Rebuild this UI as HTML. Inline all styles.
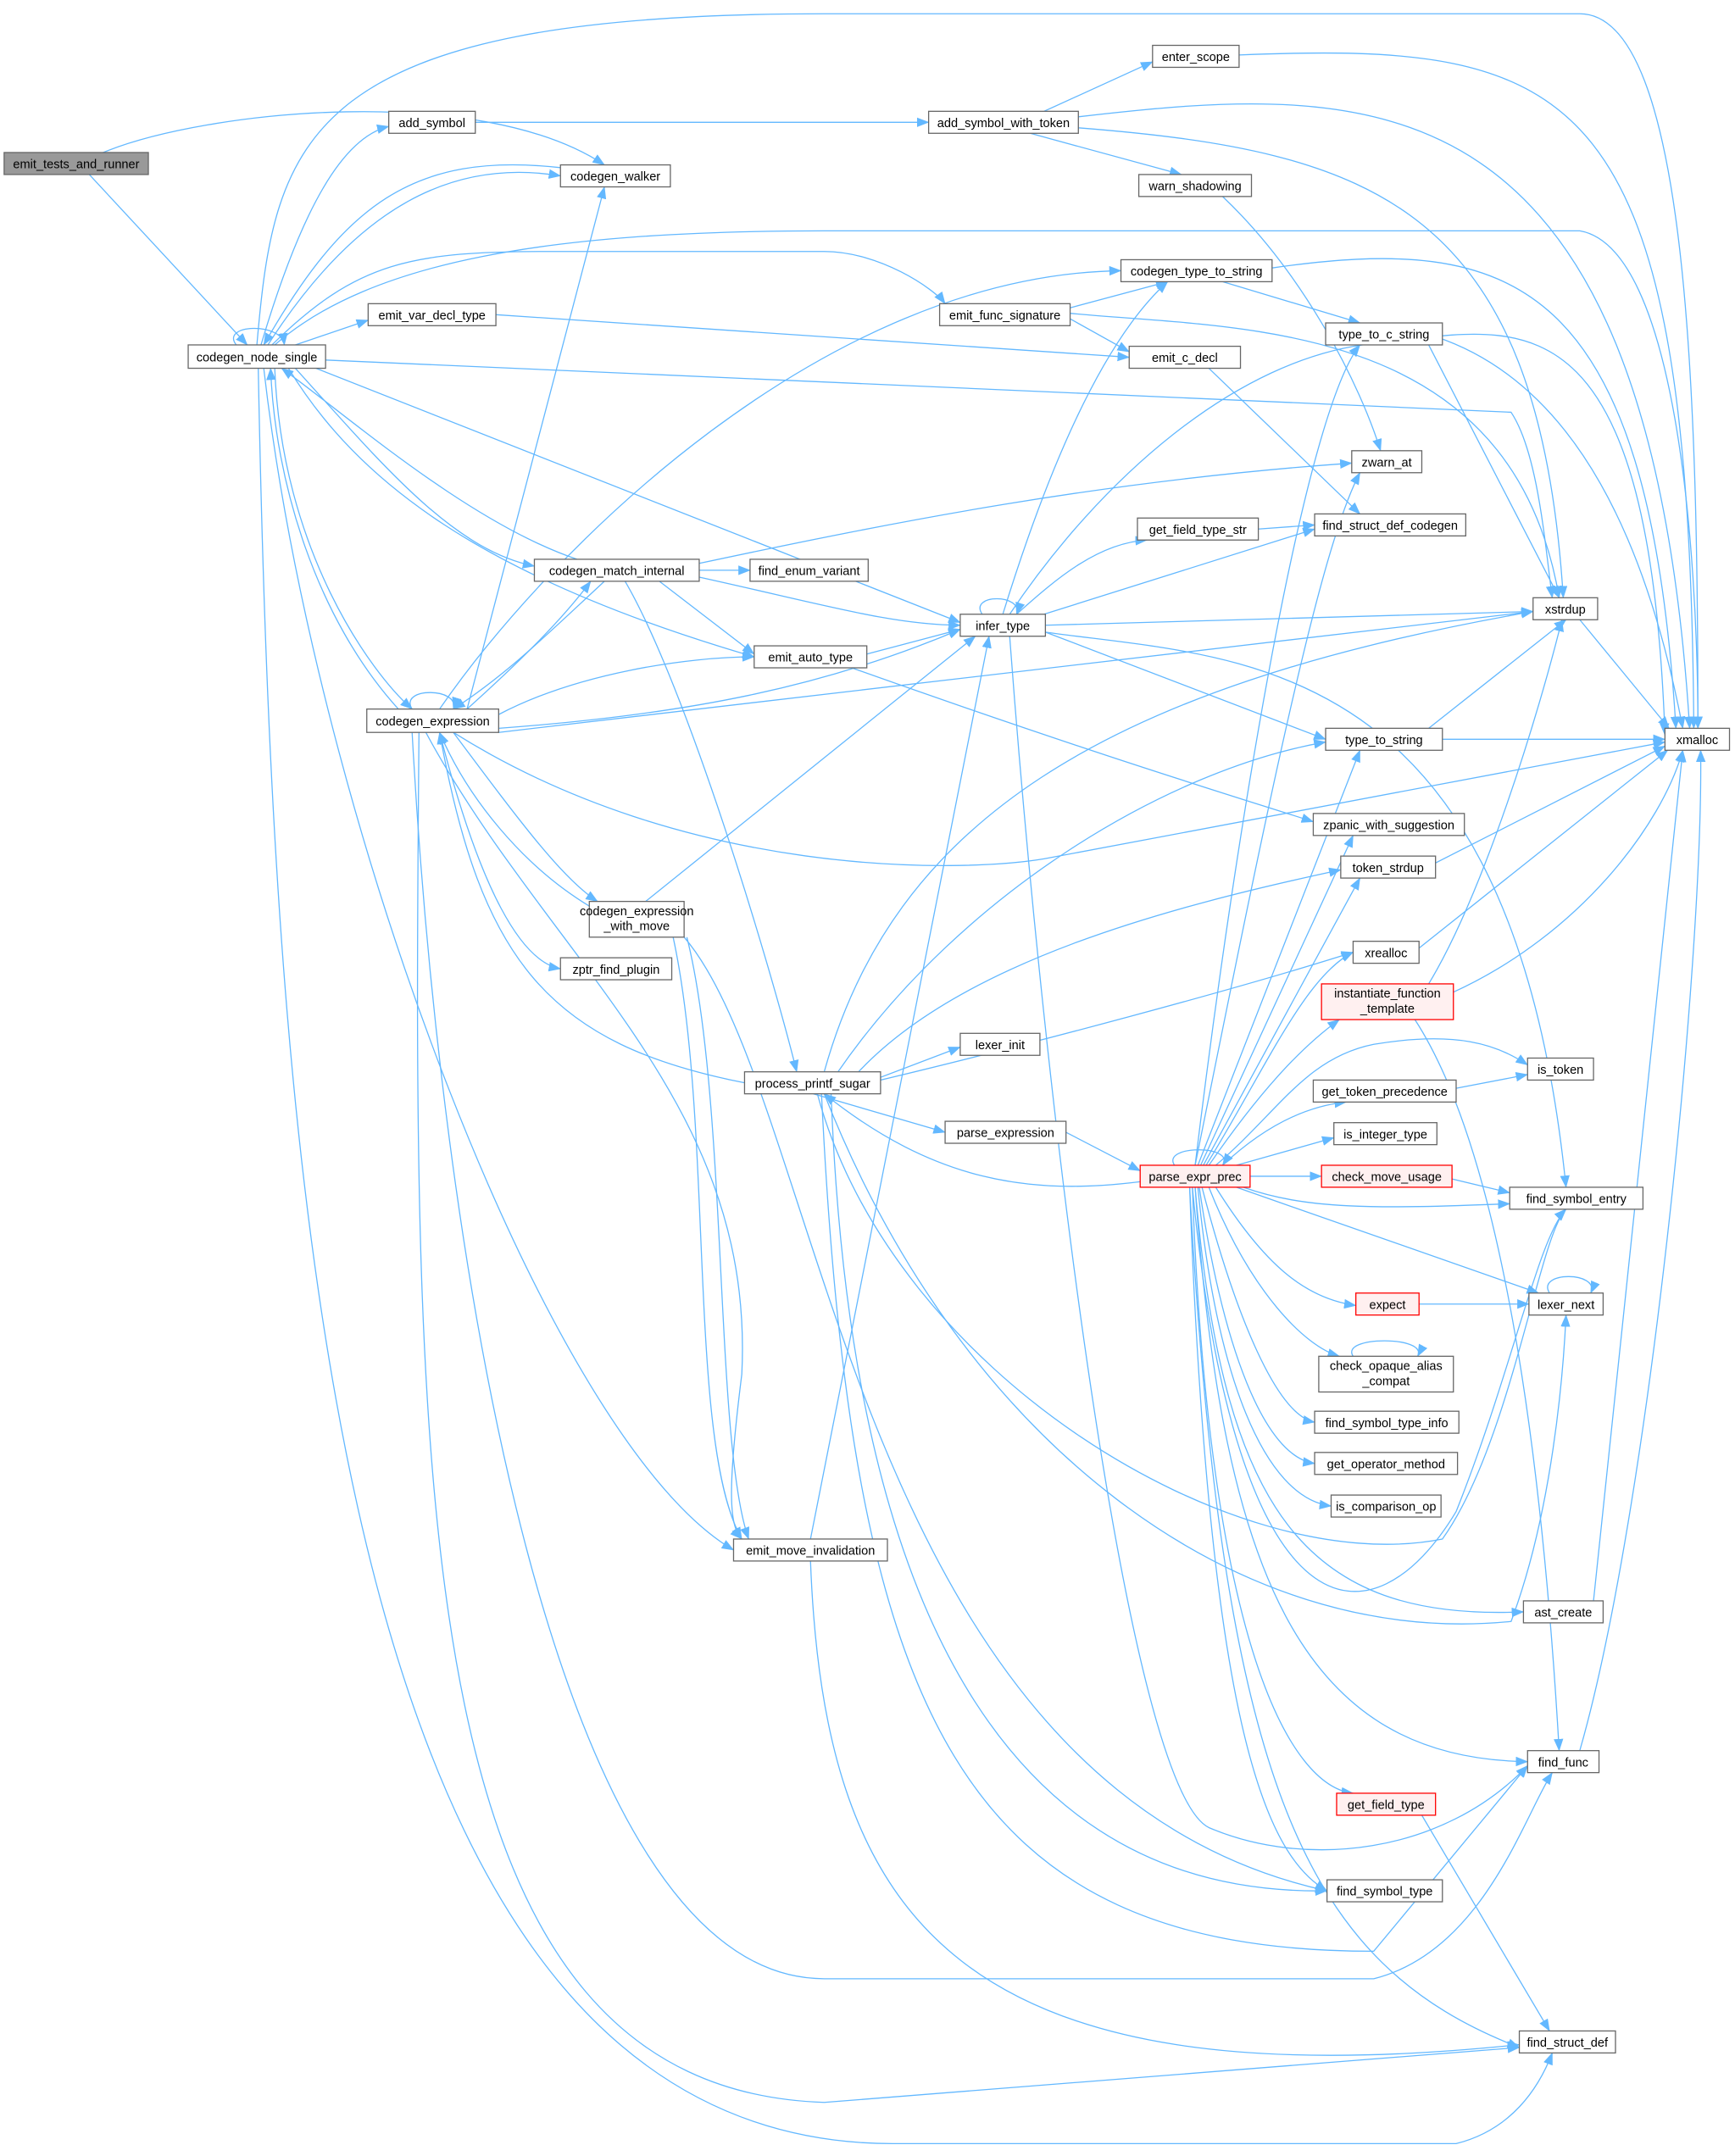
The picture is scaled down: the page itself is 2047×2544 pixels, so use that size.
<!DOCTYPE html>
<html><head><meta charset="utf-8"><style>
html,body{margin:0;padding:0;background:#fff;}
svg{display:block;}
text{font-family:"Liberation Sans","DejaVu Sans",sans-serif;font-size:9px;fill:#000;text-anchor:middle;}
.e{fill:none;stroke:#63b8ff;stroke-width:0.8;marker-end:url(#a);}
.n{fill:#fff;stroke:#666;stroke-width:0.8;}
.r{fill:#fff0f0;stroke:#ff0000;stroke-width:0.8;}
.g{fill:#999;stroke:#666;stroke-width:0.8;}
</style></head><body>
<svg width="2047" height="2544" viewBox="0 0 1263 1569" preserveAspectRatio="none" xmlns="http://www.w3.org/2000/svg">
<defs><marker id="a" markerUnits="userSpaceOnUse" markerWidth="9" markerHeight="7" refX="8.5" refY="3.5" orient="auto"><path d="M0,0 L9,3.5 L0,7 z" fill="#63b8ff"/></marker></defs>
<g>
<!-- emit_tests -->
<path class="e" d="M75,111 C150,80 350,60 440,120"/>
<path class="e" d="M65,127 L180,251"/>
<!-- codegen_node_single -->
<path class="e" d="M172,251 C160,236 205,234 207,251"/>
<path class="e" d="M190,251 C220,150 250,100 283,92"/>
<path class="e" d="M187,251 C200,100 220,10 600,10 L1150,10 C1230,10 1236,300 1236,530"/>
<path class="e" d="M195,251 C260,150 330,115 408,128"/>
<path class="e" d="M408,122 C300,110 250,150 192,251"/>
<path class="e" d="M198,251 C260,190 300,183 400,183 L600,183 C640,183 680,210 688,221"/>
<path class="e" d="M200,251 C270,190 400,168 600,168 L1150,168 C1220,180 1236,400 1236,530"/>
<path class="e" d="M215,251 L268,233"/>
<path class="e" d="M237,262 L1100,300 C1120,330 1125,400 1130,435"/>
<path class="e" d="M230,268 L699,453"/>
<path class="e" d="M215,268 C280,340 330,400 389,412"/>
<path class="e" d="M420,407 C340,380 250,300 205,268"/>
<path class="e" d="M210,268 C260,350 350,420 549,478"/>
<path class="e" d="M200,268 C205,400 270,490 300,516"/>
<path class="e" d="M290,516 C230,450 200,350 197,268"/>
<path class="e" d="M192,268 C230,600 400,1050 534,1128"/>
<path class="e" d="M188,268 C200,900 250,1560 650,1560 L1060,1560 C1100,1550 1120,1520 1130,1494"/>
<!-- codegen_expression -->
<path class="e" d="M300,516 C290,500 335,500 330,516"/>
<path class="e" d="M340,516 L440,136"/>
<path class="e" d="M320,516 C400,400 600,200 816,197"/>
<path class="e" d="M340,516 C380,480 410,450 430,423"/>
<path class="e" d="M440,423 C400,460 370,490 330,516"/>
<path class="e" d="M363,520 C420,490 500,478 549,478"/>
<path class="e" d="M363,530 C500,520 600,500 699,458"/>
<path class="e" d="M363,533 L1116,445"/>
<path class="e" d="M330,533 C500,640 700,635 760,625 L1212,540"/>
<path class="e" d="M330,533 C380,600 410,640 435,656"/>
<path class="e" d="M430,660 C380,630 340,580 320,533"/>
<path class="e" d="M320,533 C350,650 380,700 408,705"/>
<path class="e" d="M310,533 C400,700 550,800 540,1000 C530,1080 530,1110 540,1120"/>
<path class="e" d="M300,533 C320,900 400,1440 600,1440 L1000,1440 C1080,1420 1110,1320 1130,1290"/>
<path class="e" d="M305,533 C300,1100 300,1520 600,1530 L1106,1490"/>
<path class="e" d="M542,788 C400,760 350,700 320,533"/>
<!-- codegen_match_internal -->
<path class="e" d="M509,410 C650,380 800,350 984,337"/>
<path class="e" d="M509,415 L546,415"/>
<path class="e" d="M509,420 C600,440 650,455 699,455"/>
<path class="e" d="M480,423 L549,476"/>
<path class="e" d="M455,423 C500,500 560,700 580,780"/>
<!-- emit_auto_type -->
<path class="e" d="M631,476 L699,458"/>
<path class="e" d="M620,486 C800,550 900,580 956,598"/>
<!-- cewm -->
<path class="e" d="M470,656 L710,463"/>
<path class="e" d="M500,682 C530,800 520,1050 545,1120"/>
<path class="e" d="M490,682 C520,820 500,1050 540,1120"/>
<path class="e" d="M498,682 C600,800 620,1300 966,1376"/>
<!-- emit_move_invalidation -->
<path class="e" d="M590,1120 L720,463"/>
<path class="e" d="M590,1136 C600,1400 700,1530 1106,1488"/>
<!-- process_printf_sugar -->
<path class="e" d="M641,784 L699,762"/>
<path class="e" d="M592,796 L688,824"/>
<path class="e" d="M830,860 C750,870 680,860 600,796"/>
<path class="e" d="M600,780 C650,600 800,500 1116,445"/>
<path class="e" d="M610,780 C700,650 850,560 965,540"/>
<path class="e" d="M625,780 C700,700 850,660 976,633"/>
<path class="e" d="M641,786 C750,760 900,720 985,693"/>
<path class="e" d="M600,796 C700,1050 900,1200 1100,1180 C1130,1100 1138,1000 1140,957"/>
<path class="e" d="M595,796 C650,1000 900,1150 1050,1120 C1100,1050 1120,900 1140,880"/>
<path class="e" d="M605,796 C620,1200 750,1380 966,1376"/>
<path class="e" d="M598,796 C620,1250 700,1420 1000,1420 L1112,1285"/>
<!-- infer_type -->
<path class="e" d="M715,447 C705,432 745,432 740,447"/>
<path class="e" d="M730,447 C760,350 800,250 850,205"/>
<path class="e" d="M740,447 C770,420 800,395 835,393"/>
<path class="e" d="M760,447 L957,385"/>
<path class="e" d="M761,455 L1116,445"/>
<path class="e" d="M735,447 C800,350 900,260 1000,250 C1100,240 1200,200 1212,535"/>
<path class="e" d="M761,460 L965,538"/>
<path class="e" d="M761,460 C900,480 1100,470 1140,864"/>
<path class="e" d="M735,463 C760,800 820,1300 880,1330 C950,1360 1050,1350 1112,1285"/>
<!-- misc -->
<path class="e" d="M779,224 L850,205"/>
<path class="e" d="M779,232 L822,256"/>
<path class="e" d="M779,228 C900,240 1100,230 1135,435"/>
<path class="e" d="M361,229 L822,260"/>
<path class="e" d="M880,268 L990,374"/>
<path class="e" d="M890,205 L990,235"/>
<path class="e" d="M926,195 C1100,170 1200,200 1220,530"/>
<path class="e" d="M1040,251 L1135,435"/>
<path class="e" d="M1045,245 C1150,280 1200,400 1225,530"/>
<path class="e" d="M916,385 L957,382"/>
<path class="e" d="M346,89 L676,89"/>
<path class="e" d="M760,81 L839,45"/>
<path class="e" d="M750,97 L860,127"/>
<path class="e" d="M785,85 C1000,60 1200,50 1230,530"/>
<path class="e" d="M785,93 C1000,110 1120,150 1138,435"/>
<path class="e" d="M902,40 C1150,30 1230,60 1233,530"/>
<path class="e" d="M890,143 C950,200 990,280 1005,328"/>
<path class="e" d="M1150,451 L1215,530"/>
<path class="e" d="M1050,538 L1212,538"/>
<path class="e" d="M1040,530 L1140,451"/>
<path class="e" d="M1045,628 L1212,543"/>
<path class="e" d="M1033,690 L1214,546"/>
<path class="e" d="M1040,716 C1080,650 1120,520 1137,451"/>
<path class="e" d="M1058,722 C1150,680 1210,600 1225,546"/>
<path class="e" d="M1030,742 C1100,850 1125,1100 1135,1274"/>
<path class="e" d="M1060,792 L1112,782"/>
<path class="e" d="M1057,858 L1099,868"/>
<path class="e" d="M1033,949 L1113,949"/>
<path class="e" d="M1128,941 C1118,925 1165,925 1158,941"/>
<path class="e" d="M985,987 C975,972 1040,972 1032,987"/>
<path class="e" d="M1160,1165 L1225,546"/>
<path class="e" d="M1150,1274 C1200,1100 1240,700 1238,546"/>
<path class="e" d="M1035,1321 L1128,1478"/>
<path class="e" d="M776,824 L830,852"/>
<!-- parse_expr_prec -->
<path class="e" d="M855,848 C845,833 900,833 890,848"/>
<path class="e" d="M870,848 C900,600 950,300 990,251"/>
<path class="e" d="M870,848 C920,600 960,400 990,344"/>
<path class="e" d="M872,848 L990,546"/>
<path class="e" d="M874,848 L985,608"/>
<path class="e" d="M876,848 L990,639"/>
<path class="e" d="M878,848 C920,780 950,710 985,693"/>
<path class="e" d="M880,848 C920,790 950,760 975,742"/>
<path class="e" d="M885,848 C930,810 950,770 1000,760 C1060,750 1090,760 1112,775"/>
<path class="e" d="M890,848 C920,820 950,805 980,802"/>
<path class="e" d="M900,848 L971,828"/>
<path class="e" d="M910,856 L962,856"/>
<path class="e" d="M905,864 C950,880 1000,880 1099,876"/>
<path class="e" d="M900,864 L1120,941"/>
<path class="e" d="M885,864 C920,920 950,945 987,950"/>
<path class="e" d="M880,864 C910,940 950,980 975,987"/>
<path class="e" d="M875,864 C900,960 930,1030 957,1035"/>
<path class="e" d="M873,864 C890,980 920,1060 957,1065"/>
<path class="e" d="M872,864 C885,1000 920,1090 969,1096"/>
<path class="e" d="M870,864 C890,1100 950,1180 1109,1173"/>
<path class="e" d="M870,864 C890,1150 950,1280 1112,1282"/>
<path class="e" d="M868,864 C880,1200 940,1300 985,1305"/>
<path class="e" d="M866,864 C880,1250 920,1350 966,1376"/>
<path class="e" d="M866,864 C890,1300 950,1430 1106,1490"/>
<path class="e" d="M868,864 C900,1200 1000,1200 1060,1100 C1100,1000 1120,900 1140,880"/>
</g>
<g>
<rect class="g" x="3" y="111" width="105" height="16"/><text x="55.5" y="122.5">emit_tests_and_runner</text>
<rect class="n" x="137" y="251" width="100" height="17"/><text x="187" y="263">codegen_node_single</text>
<rect class="n" x="283" y="81" width="63" height="16"/><text x="314.5" y="92.5">add_symbol</text>
<rect class="n" x="408" y="120" width="80" height="16"/><text x="448" y="131.5">codegen_walker</text>
<rect class="n" x="268" y="221" width="93" height="16"/><text x="314.5" y="232.5">emit_var_decl_type</text>
<rect class="n" x="267" y="516" width="96" height="17"/><text x="315" y="528">codegen_expression</text>
<rect class="n" x="389" y="407" width="120" height="16"/><text x="449" y="418.5">codegen_match_internal</text>
<rect class="n" x="549" y="470" width="82" height="16"/><text x="590" y="481.5">emit_auto_type</text>
<rect class="n" x="429" y="656" width="69" height="26"/><text x="463.5" y="666">codegen_expression</text><text x="463.5" y="677">_with_move</text>
<rect class="n" x="408" y="697" width="81" height="16"/><text x="448.5" y="708.5">zptr_find_plugin</text>
<rect class="n" x="534" y="1120" width="112" height="16"/><text x="590" y="1131.5">emit_move_invalidation</text>
<rect class="n" x="542" y="780" width="99" height="16"/><text x="591.5" y="791.5">process_printf_sugar</text>
<rect class="n" x="699" y="752" width="58" height="16"/><text x="728" y="763.5">lexer_init</text>
<rect class="n" x="688" y="816" width="88" height="16"/><text x="732" y="827.5">parse_expression</text>
<rect class="r" x="830" y="848" width="80" height="16"/><text x="870" y="859.5">parse_expr_prec</text>
<rect class="n" x="699" y="447" width="62" height="16"/><text x="730" y="458.5">infer_type</text>
<rect class="n" x="816" y="189" width="110" height="16"/><text x="871" y="200.5">codegen_type_to_string</text>
<rect class="n" x="684" y="221" width="95" height="16"/><text x="731.5" y="232.5">emit_func_signature</text>
<rect class="n" x="822" y="252" width="81" height="16"/><text x="862.5" y="263.5">emit_c_decl</text>
<rect class="n" x="828" y="377" width="88" height="16"/><text x="872" y="388.5">get_field_type_str</text>
<rect class="n" x="546" y="407" width="86" height="16"/><text x="589" y="418.5">find_enum_variant</text>
<rect class="n" x="676" y="81" width="109" height="16"/><text x="730.5" y="92.5">add_symbol_with_token</text>
<rect class="n" x="839" y="33" width="63" height="16"/><text x="870.5" y="44.5">enter_scope</text>
<rect class="n" x="829" y="127" width="82" height="16"/><text x="870" y="138.5">warn_shadowing</text>
<rect class="n" x="965" y="235" width="85" height="16"/><text x="1007.5" y="246.5">type_to_c_string</text>
<rect class="n" x="984" y="328" width="51" height="16"/><text x="1009.5" y="339.5">zwarn_at</text>
<rect class="n" x="957" y="374" width="110" height="16"/><text x="1012" y="385.5">find_struct_def_codegen</text>
<rect class="n" x="1116" y="435" width="47" height="16"/><text x="1139.5" y="446.5">xstrdup</text>
<rect class="n" x="1212" y="530" width="47" height="16"/><text x="1235.5" y="541.5">xmalloc</text>
<rect class="n" x="965" y="530" width="85" height="16"/><text x="1007.5" y="541.5">type_to_string</text>
<rect class="n" x="956" y="592" width="110" height="16"/><text x="1011" y="603.5">zpanic_with_suggestion</text>
<rect class="n" x="976" y="623" width="69" height="16"/><text x="1010.5" y="634.5">token_strdup</text>
<rect class="n" x="985" y="685" width="48" height="16"/><text x="1009" y="696.5">xrealloc</text>
<rect class="r" x="962" y="716" width="96" height="26"/><text x="1010" y="726">instantiate_function</text><text x="1010" y="737">_template</text>
<rect class="n" x="1112" y="770" width="48" height="16"/><text x="1136" y="781.5">is_token</text>
<rect class="n" x="956" y="786" width="104" height="16"/><text x="1008" y="797.5">get_token_precedence</text>
<rect class="n" x="971" y="817" width="75" height="16"/><text x="1008.5" y="828.5">is_integer_type</text>
<rect class="r" x="962" y="848" width="95" height="16"/><text x="1009.5" y="859.5">check_move_usage</text>
<rect class="n" x="1099" y="864" width="97" height="16"/><text x="1147.5" y="875.5">find_symbol_entry</text>
<rect class="n" x="1113" y="941" width="54" height="16"/><text x="1140" y="952.5">lexer_next</text>
<rect class="r" x="987" y="941" width="46" height="16"/><text x="1010" y="952.5">expect</text>
<rect class="n" x="960" y="987" width="98" height="26"/><text x="1009" y="997">check_opaque_alias</text><text x="1009" y="1008">_compat</text>
<rect class="n" x="957" y="1027" width="105" height="16"/><text x="1009.5" y="1038.5">find_symbol_type_info</text>
<rect class="n" x="957" y="1057" width="104" height="16"/><text x="1009" y="1068.5">get_operator_method</text>
<rect class="n" x="969" y="1088" width="80" height="16"/><text x="1009" y="1099.5">is_comparison_op</text>
<rect class="n" x="1109" y="1165" width="58" height="16"/><text x="1138" y="1176.5">ast_create</text>
<rect class="n" x="1112" y="1274" width="52" height="16"/><text x="1138" y="1285.5">find_func</text>
<rect class="r" x="973" y="1305" width="72" height="16"/><text x="1009" y="1316.5">get_field_type</text>
<rect class="n" x="966" y="1368" width="84" height="16"/><text x="1008" y="1379.5">find_symbol_type</text>
<rect class="n" x="1106" y="1478" width="70" height="16"/><text x="1141" y="1489.5">find_struct_def</text>
</g>
</svg>
</body></html>
